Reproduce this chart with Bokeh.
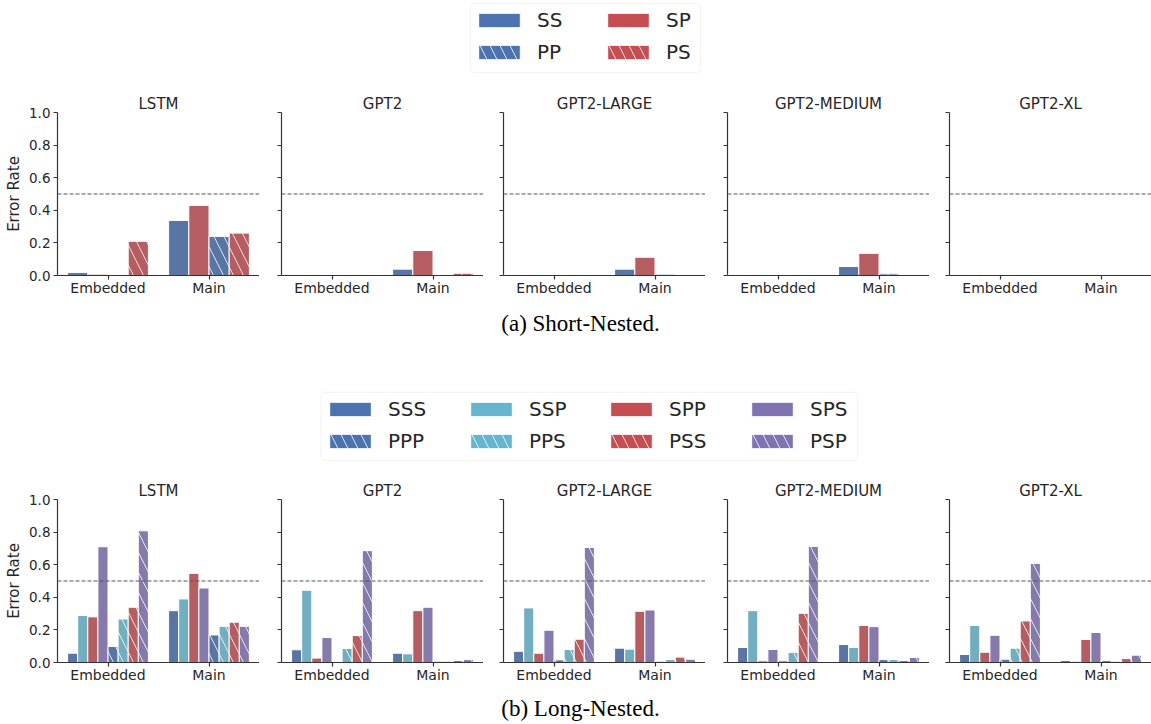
from bokeh.plotting import figure
from bokeh.layouts import column, row
from bokeh.models import (FactorRange, Range1d, Span, Legend, LegendItem, Label,
                          FixedTicker, PrintfTickFormatter, CustomJSTickFormatter,
                          ColumnDataSource, BoxAnnotation)
from bokeh.transform import dodge
from bokeh.embed import file_html
from bokeh.resources import INLINE

# ---------------- data ----------------
models = ["LSTM", "GPT2", "GPT2-LARGE", "GPT2-MEDIUM", "GPT2-XL"]
groups = ["Embedded", "Main"]
y_ticks = [0.0, 0.2, 0.4, 0.6, 0.8, 1.0]
chance_level = 0.5

# Short-Nested: one value per model (LSTM, GPT2, GPT2-LARGE, GPT2-MEDIUM, GPT2-XL)
short_conditions = ["SS", "SP", "PP", "PS"]
short_SS_embedded = [0.018, 0.0, 0.0, 0.0, 0.0]
short_SS_main = [0.338, 0.039, 0.039, 0.055, 0.0]
short_SP_embedded = [0.008, 0.0, 0.0, 0.0, 0.0]
short_SP_main = [0.430, 0.153, 0.112, 0.136, 0.005]
short_PP_embedded = [0.0, 0.0, 0.0, 0.0, 0.0]
short_PP_main = [0.240, 0.0, 0.008, 0.010, 0.0]
short_PS_embedded = [0.210, 0.0, 0.0, 0.006, 0.0]
short_PS_main = [0.260, 0.014, 0.0, 0.006, 0.005]

# Long-Nested
long_conditions = ["SSS", "SSP", "SPP", "SPS", "PPP", "PPS", "PSS", "PSP"]
long_SSS_embedded = [0.057, 0.078, 0.069, 0.092, 0.049]
long_SSS_main = [0.318, 0.057, 0.088, 0.110, 0.012]
long_SSP_embedded = [0.288, 0.443, 0.335, 0.318, 0.227]
long_SSP_main = [0.390, 0.053, 0.082, 0.092, 0.008]
long_SPP_embedded = [0.280, 0.027, 0.057, 0.010, 0.063]
long_SPP_main = [0.547, 0.318, 0.314, 0.227, 0.141]
long_SPS_embedded = [0.710, 0.153, 0.198, 0.080, 0.167]
long_SPS_main = [0.457, 0.339, 0.322, 0.220, 0.184]
long_PPP_embedded = [0.098, 0.0, 0.016, 0.010, 0.020]
long_PPP_main = [0.169, 0.008, 0.008, 0.018, 0.012]
long_PPS_embedded = [0.267, 0.086, 0.080, 0.061, 0.088]
long_PPS_main = [0.222, 0.008, 0.018, 0.018, 0.008]
long_PSS_embedded = [0.339, 0.165, 0.143, 0.302, 0.255]
long_PSS_main = [0.247, 0.012, 0.033, 0.012, 0.024]
long_PSP_embedded = [0.808, 0.686, 0.706, 0.712, 0.608]
long_PSP_main = [0.222, 0.018, 0.020, 0.031, 0.045]

short_values = {
    "SS": (short_SS_embedded, short_SS_main),
    "SP": (short_SP_embedded, short_SP_main),
    "PP": (short_PP_embedded, short_PP_main),
    "PS": (short_PS_embedded, short_PS_main),
}
long_values = {
    "SSS": (long_SSS_embedded, long_SSS_main),
    "SSP": (long_SSP_embedded, long_SSP_main),
    "SPP": (long_SPP_embedded, long_SPP_main),
    "SPS": (long_SPS_embedded, long_SPS_main),
    "PPP": (long_PPP_embedded, long_PPP_main),
    "PPS": (long_PPS_embedded, long_PPS_main),
    "PSS": (long_PSS_embedded, long_PSS_main),
    "PSP": (long_PSP_embedded, long_PSP_main),
}

# legend columns (column-wise, as in the reference)
short_legend_columns = [["SS", "PP"], ["SP", "PS"]]
long_legend_columns = [["SSS", "PPP"], ["SSP", "PPS"], ["SPP", "PSS"], ["SPS", "PSP"]]

# ---------------- styles ----------------
FONT = "DejaVu Sans"
SERIF = "Liberation Serif"
TEXT = "#262626"
AXIS = "#333333"

BAR = {"blue": "#5875A4", "cyan": "#71AEC0", "red": "#B55D60", "purple": "#857AAB"}
LEG = {"blue": "#4C72B0", "cyan": "#64B5CD", "red": "#C44E52", "purple": "#8172B2"}

short_style = {"SS": ("blue", False), "SP": ("red", False),
               "PP": ("blue", True), "PS": ("red", True)}
long_style = {"SSS": ("blue", False), "SSP": ("cyan", False), "SPP": ("red", False),
              "SPS": ("purple", False), "PPP": ("blue", True), "PPS": ("cyan", True),
              "PSS": ("red", True), "PSP": ("purple", True)}

HATCH = dict(hatch_pattern="left_diagonal_line", hatch_color="white",
             hatch_scale=20, hatch_weight=1, hatch_alpha=0.8)

TOTAL_W = 1151
FRAME_W = 202
FRAME_H = 163
LEFT_BORDERS = [57, 22, 20, 22, 20]


def panel(mi, conds, values, style):
    first = mi == 0
    p = figure(x_range=FactorRange(factors=groups, range_padding=0),
               y_range=Range1d(0, 1.0),
               frame_width=FRAME_W, frame_height=FRAME_H,
               min_border_left=LEFT_BORDERS[mi], min_border_right=0,
               min_border_top=32, min_border_bottom=28,
               toolbar_location=None, output_backend="svg",
               title=models[mi])
    p.title.text_font = FONT
    p.title.text_font_size = "15px"
    p.title.text_font_style = "normal"
    p.title.text_color = TEXT
    p.title.align = "center"
    p.title.standoff = 0

    n = len(conds)
    bw = 0.8 / n
    for i, c in enumerate(conds):
        off = -0.4 + bw * (i + 0.5)
        emb, main = values[c]
        src = ColumnDataSource(dict(group=groups, top=[emb[mi], main[mi]]))
        color, hatched = style[c]
        kw = dict(HATCH) if hatched else {}
        p.vbar(x=dodge("group", off, range=p.x_range), top="top", width=bw,
               source=src, fill_color=BAR[color], line_color="white",
               line_width=1, **kw)

    p.add_layout(Span(location=chance_level, dimension="width", line_color="#555555",
                      line_dash="4 2", line_width=1))

    p.xgrid.grid_line_color = None
    p.ygrid.grid_line_color = None
    p.outline_line_color = None

    for ax in (p.xaxis[0], p.yaxis[0]):
        ax.axis_line_color = AXIS
        ax.axis_line_width = 1.2
        ax.major_tick_line_color = AXIS
        ax.major_tick_line_width = 1.2
        ax.major_tick_out = 4
        ax.major_tick_in = 0
        ax.minor_tick_line_color = None
        ax.major_label_text_font = FONT
        ax.major_label_text_color = TEXT

    p.xaxis.major_label_text_font_size = "14px"
    p.xaxis.major_label_standoff = 0
    p.yaxis.major_label_text_font_size = "13.5px"
    p.yaxis.ticker = FixedTicker(ticks=y_ticks)
    p.yaxis.major_label_standoff = 3
    if first:
        p.yaxis.formatter = PrintfTickFormatter(format="%.1f")
        p.yaxis.axis_label = "Error Rate"
        p.yaxis.axis_label_text_font = FONT
        p.yaxis.axis_label_text_font_size = "15px"
        p.yaxis.axis_label_text_font_style = "normal"
        p.yaxis.axis_label_text_color = TEXT
        p.yaxis.axis_label_standoff = 3
    else:
        p.yaxis.formatter = CustomJSTickFormatter(code="return ''")
    return p


def legend_fig(height, columns_spec=None, style=None, col_x=None, leg_y=0, box=None,
               caption=None, cap_x=580, cap_y=0):
    p = figure(width=TOTAL_W, height=height,
               x_range=Range1d(0, TOTAL_W), y_range=Range1d(0, height),
               min_border_left=0, min_border_right=0,
               min_border_top=0, min_border_bottom=0,
               x_axis_type=None, y_axis_type=None,
               toolbar_location=None, output_backend="svg")
    p.grid.grid_line_color = None
    p.outline_line_color = None
    if box is not None:
        l, r, b, t = box
        kw = dict(left=l, right=r, bottom=b, top=t, fill_color="white", fill_alpha=1,
                  line_color="#d6d6d6", line_width=1, level="underlay")
        try:
            ba = BoxAnnotation(border_radius=4, **kw)
        except Exception:
            ba = BoxAnnotation(**kw)
        p.add_layout(ba)
    if columns_spec:
        for ci, col in enumerate(columns_spec):
            items = []
            for c in col:
                color, hatched = style[c]
                kw = dict(HATCH) if hatched else {}
                # legend proxy, outside the visible range
                r = p.vbar(x=[-50], top=[0], width=1, fill_color=LEG[color],
                           line_color="white", line_width=1, **kw)
                items.append(LegendItem(label=c, renderers=[r]))
            lg = Legend(items=items, location=(col_x[ci], leg_y), margin=0,
                        label_text_font=FONT, label_text_font_size="20px",
                        label_text_color=TEXT, glyph_width=52, glyph_height=18,
                        label_height=29, label_width=10, label_standoff=12,
                        spacing=3, padding=0, border_line_color=None,
                        background_fill_alpha=0)
            p.add_layout(lg, "center")
    if caption:
        p.add_layout(Label(x=cap_x, y=cap_y, text=caption, text_align="center",
                           text_baseline="middle", text_font=SERIF,
                           text_font_size="23px", text_color="black"))
    return p


leg1 = legend_fig(80, short_legend_columns, short_style, col_x=[473, 602], leg_y=13.5,
                  box=(470, 700, 8, 77))
top_row = row(*[panel(i, short_conditions, short_values, short_style) for i in range(5)])
leg2 = legend_fig(164, long_legend_columns, long_style, col_x=[324, 465, 605, 746],
                  leg_y=11.7, box=(320.5, 857, 7, 75.3),
                  caption="(a) Short-Nested.", cap_y=144)
bottom_row = row(*[panel(i, long_conditions, long_values, long_style) for i in range(5)])
cap2 = legend_fig(34, caption="(b) Long-Nested.", cap_y=16)

layout = column(leg1, top_row, leg2, bottom_row, cap2)

open("out.html", "w").write(file_html(layout, INLINE))
